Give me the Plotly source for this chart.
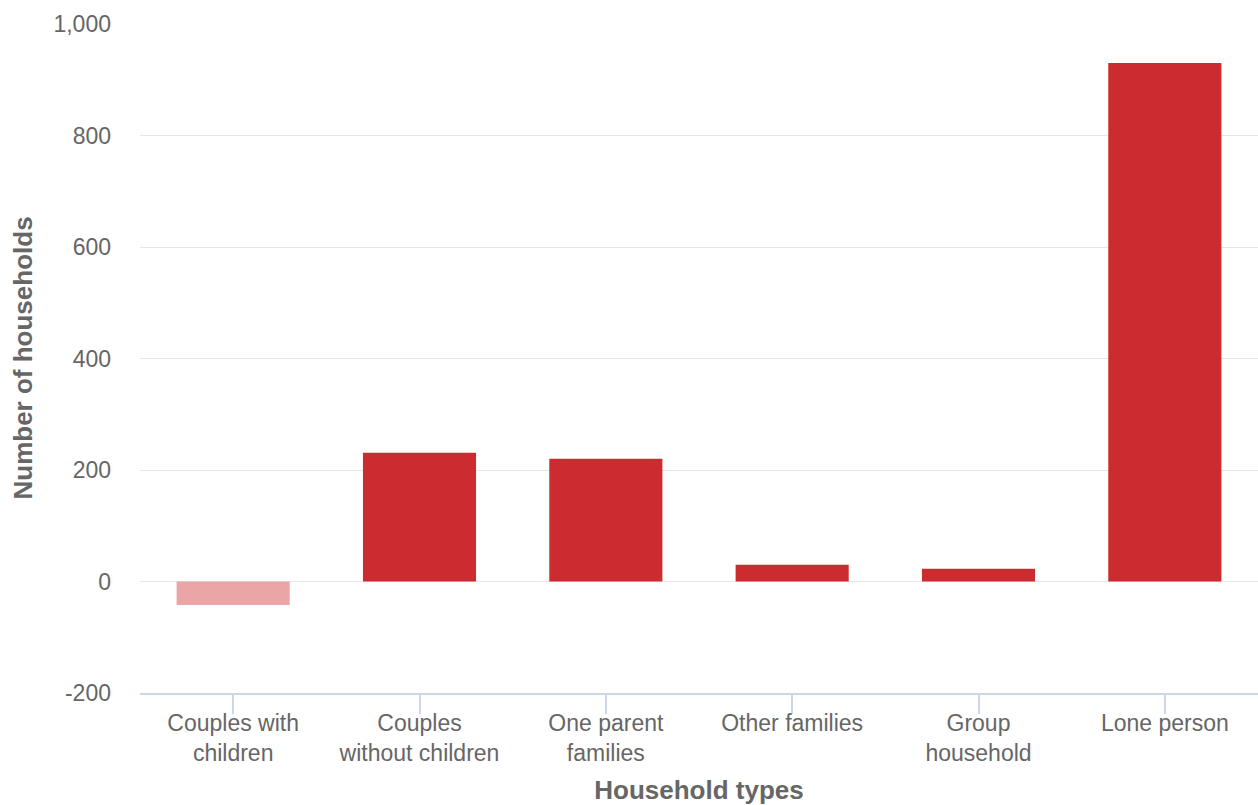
import plotly.graph_objects as go

categories = ["Couples with<br>children", "Couples<br>without children", "One parent<br>families",
              "Other families", "Group<br>household", "Lone person"]
values = [-42, 231, 220, 30, 23, 930]
y_ticks = [-200, 0, 200, 400, 600, 800, 1000]
y_tick_text = ["-200", "0", "200", "400", "600", "800", "1,000"]
colors = ["#EAA5A7" if v < 0 else "#CC2C30" for v in values]

fig = go.Figure(go.Bar(x=categories, y=values, marker=dict(color=colors, line=dict(width=0)),
                       hoverinfo="x+y"))

font_family = "Liberation Sans, Arial, sans-serif"
fig.update_layout(
    width=1258, height=805,
    margin=dict(l=140, r=0, t=24, b=112),
    plot_bgcolor="white", paper_bgcolor="white",
    bargap=0.393,
    showlegend=False,
    font=dict(family=font_family, color="#666666", size=23),
)
fig.update_yaxes(
    range=[-200, 1000], tickvals=y_ticks, ticktext=y_tick_text,
    showgrid=True, gridcolor="#e6e6e6", gridwidth=1,
    zeroline=True, zerolinecolor="#e6e6e6", zerolinewidth=1,
    showline=False, ticks="", ticklabelstandoff=28, automargin=False,
    tickfont=dict(size=23, color="#666666"),
)
fig.add_annotation(
    text="<b>Number of households</b>", textangle=-90,
    xref="paper", yref="paper", x=0, y=0.5, xshift=-118,
    xanchor="center", yanchor="middle",
    showarrow=False, font=dict(size=26, color="#666666", family=font_family),
)
fig.update_xaxes(
    showline=True, linecolor="#ccd6eb", linewidth=2,
    ticks="outside", ticklen=19, tickcolor="#ccd6eb", tickwidth=2,
    ticklabelstandoff=-11,
    showgrid=False, automargin=False,
    tickfont=dict(size=23, color="#666666"),
    title=dict(text="<b>Household types</b>", font=dict(size=26, color="#666666"), standoff=19),
)

fig.write_html("out.html", config={"displayModeBar": False},
               post_script="document.body.style.margin='0';document.body.style.overflow='hidden';")
